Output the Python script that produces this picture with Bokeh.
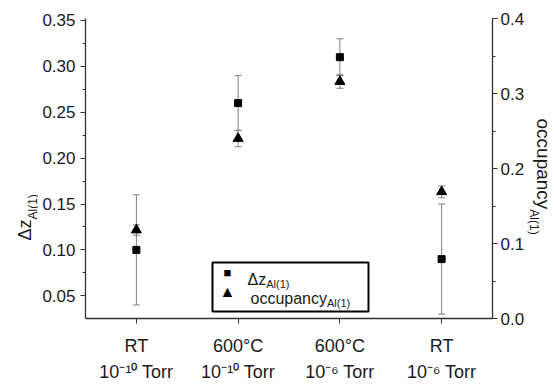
import math
from bokeh.plotting import figure
from bokeh.layouts import row
from bokeh.models import (ColumnDataSource, FactorRange, Range1d, LinearAxis, FixedTicker,
                          Whisker, TeeHead, Label, BoxAnnotation, PrintfTickFormatter)
from bokeh.embed import file_html
from bokeh.resources import INLINE

# ---------------- data ----------------
conditions = ["RT", "600°C", "600°C", "RT"]
pressures = ["10⁻¹⁰ Torr", "10⁻¹⁰ Torr", "10⁻⁶ Torr", "10⁻⁶ Torr"]
dz = [0.10, 0.26, 0.31, 0.09]
dz_low = [0.04, 0.23, 0.29, 0.03]
dz_high = [0.16, 0.29, 0.33, 0.15]
occ = [0.118, 0.240, 0.316, 0.169]
occ_low = [0.111, 0.229, 0.307, 0.161]
occ_high = [0.125, 0.251, 0.325, 0.177]
left_ticks = [0.05, 0.10, 0.15, 0.20, 0.25, 0.30, 0.35]
left_minor = [0.075, 0.125, 0.175, 0.225, 0.275, 0.325]
right_ticks = [0.0, 0.1, 0.2, 0.3, 0.4]
right_minor = [0.05, 0.15, 0.25, 0.35]

categories = [f"{c}\n{pr}" for c, pr in zip(conditions, pressures)]

# ---------------- layout constants ----------------
W, H = 554, 384
LW, RW = 38, 27            # side strips holding the rotated axis titles
FL, FR, FT, FBT = 85, 495, 18, 322   # frame edges in page pixels
FONT = "Liberation Sans"
TXT = "#1a1a1a"
AX = "#333333"
ERR = "#808080"

AW = {" ": 278, "(": 333, ")": 333, ".": 278, "A": 667, "l": 222, "o": 556, "c": 500,
      "u": 556, "p": 556, "a": 556, "n": 556, "y": 500, "z": 500, "Δ": 668, "1": 556}


def tw(s, size):
    return sum(AW.get(ch, 556) for ch in s) / 1000.0 * size


def strip(width):
    f = figure(width=width, height=H, x_axis_type=None, y_axis_type=None,
               output_backend="svg", toolbar_location=None, min_border=0)
    f.outline_line_color = None
    f.xgrid.visible = False
    f.ygrid.visible = False
    return f


def lab(fig, x, y, text, size, **kw):
    kw.setdefault("text_align", "left")
    kw.setdefault("text_baseline", "alphabetic")
    kw.setdefault("text_color", TXT)
    fig.add_layout(Label(x=x, y=y, x_units="screen", y_units="screen", text=text,
                         text_font=FONT, text_font_size=size, level="overlay", **kw))


src = ColumnDataSource(dict(cat=categories, dz=dz, dz_low=dz_low, dz_high=dz_high,
                            occ=occ, occ_low=occ_low, occ_high=occ_high))

MW = W - LW - RW
p = figure(width=MW, height=H, x_range=FactorRange(*categories, range_padding=0),
           y_range=Range1d(0.35 - 302 / 930.0, 0.35 + 2 / 930.0),
           output_backend="svg", toolbar_location=None,
           min_border_left=FL - LW, min_border_right=(W - RW) - FR,
           min_border_top=FT, min_border_bottom=H - FBT)
p.extra_y_ranges = {"occ": Range1d(0.0, 0.4)}
p.outline_line_color = None
p.xgrid.visible = False
p.ygrid.visible = False

ya = p.yaxis[0]
ya.ticker = FixedTicker(ticks=left_ticks, minor_ticks=left_minor)
ya.formatter = PrintfTickFormatter(format="%.2f")
xa = p.xaxis[0]
ra = LinearAxis(y_range_name="occ", ticker=FixedTicker(ticks=right_ticks, minor_ticks=right_minor),
                formatter=PrintfTickFormatter(format="%.1f"))
p.add_layout(ra, "right")
for ax in (ya, xa, ra):
    ax.axis_line_color = AX
    ax.axis_line_width = 1.3
    ax.major_tick_line_color = AX
    ax.minor_tick_line_color = AX
    ax.major_tick_in = 0
    ax.major_tick_out = 5
    ax.minor_tick_in = 0
    ax.minor_tick_out = 3
    ax.major_label_text_font = FONT
    ax.major_label_text_font_size = "17px"
    ax.major_label_text_color = TXT
ya.major_label_standoff = 5
ra.major_label_standoff = 3
xa.major_label_standoff = 12
xa.major_label_text_font_size = "18px"
xa.major_label_text_line_height = 1.3

# error bars
for up, lo, rng in (("dz_high", "dz_low", "default"), ("occ_high", "occ_low", "occ")):
    p.add_layout(Whisker(base="cat", upper=up, lower=lo, source=src, dimension="height",
                         y_range_name=rng, line_color=ERR, line_width=1,
                         upper_head=TeeHead(size=7, line_color=ERR, line_width=1),
                         lower_head=TeeHead(size=7, line_color=ERR, line_width=1),
                         level="underlay"))

# markers
p.scatter("cat", "dz", source=src, marker="square", size=7, fill_color="black", line_color="black")
p.scatter("cat", "occ", source=src, marker="triangle", size=10, fill_color="black",
          line_color="black", y_range_name="occ")


def psx(cx):
    return cx - FL


def psy(cy):
    return FBT - cy


# legend (manual, to allow subscripts)
p.add_layout(BoxAnnotation(left=psx(212), right=psx(368), top=psy(266), bottom=psy(315),
                           left_units="screen", right_units="screen", top_units="screen",
                           bottom_units="screen", fill_color="white", fill_alpha=1.0,
                           line_color="black", line_alpha=1.0, line_width=2, level="overlay"))
lab(p, psx(227), psy(276), "■", "13px", text_align="center", text_baseline="middle", text_color="black")
lab(p, psx(227), psy(295), "▲", "16px", text_align="center", text_baseline="middle", text_color="black")
for txt, sub, x0, yb in (("Δz", "Al(1)", 247, 283), ("occupancy", "Al(1)", 250, 302)):
    lab(p, psx(x0), psy(yb), txt, "16px")
    lab(p, psx(x0 + tw(txt, 16)), psy(yb + 4), sub, "11px")

# axis titles with subscripts, in side strips
left = strip(LW)
LSTART = 244
lab(left, 24, psy(LSTART), "Δz", "18px", angle=math.pi / 2)
lab(left, 32, psy(LSTART - tw("Δz", 18)), "Al(1)", "12px", angle=math.pi / 2)

right = strip(RW)
X0 = W - RW
RSTART = 122
lab(right, 543 - X0, psy(RSTART), "occupancy", "19px", angle=-math.pi / 2)
lab(right, 533 - X0, psy(RSTART + tw("occupancy", 19)), "Al(1)", "12px", angle=-math.pi / 2)

layout = row(left, p, right, spacing=0)
open("out.html", "w").write(file_html(layout, INLINE))
